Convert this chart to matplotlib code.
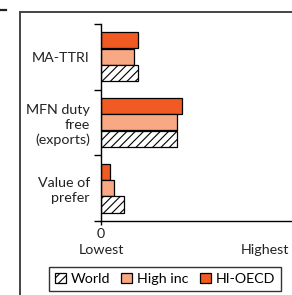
import numpy as np
import matplotlib.pyplot as plt
from matplotlib.patches import Patch
from matplotlib.lines import Line2D

plt.rcParams['font.family'] = ['Lato', 'DejaVu Sans']
plt.rcParams['hatch.linewidth'] = 0.8

categories = ["MA-TTRI", "MFN duty\nfree\n(exports)", "Value of\nprefer"]
series = ["HI-OECD", "High inc", "World"]
hi_oecd = [0.225, 0.49, 0.055]
high_inc = [0.20, 0.46, 0.08]
world = [0.225, 0.46, 0.14]

colors = {"HI-OECD": "#F15A22", "High inc": "#F8A882", "World": "white"}
hatches = {"HI-OECD": None, "High inc": None, "World": "////"}

fig = plt.figure(figsize=(2.92, 2.95), dpi=100)
ax = fig.add_axes([0.346, 0.251, 0.675, 0.668])

y = np.arange(len(categories)) + 0.5
offsets = [-0.25, 0.0, 0.25]
for vals, name, off in zip([hi_oecd, high_inc, world], series, offsets):
    ax.barh(y + off, vals, height=0.245, color=colors[name], hatch=hatches[name],
            edgecolor="black", linewidth=0.9)

ax.set_ylim(3, 0)
ax.set_xlim(0, 1.2)

# ticks at the group boundaries, labels at the group centres
ax.set_yticks([0, 1, 2, 3])
ax.set_yticklabels([])
ax.set_yticks(y, minor=True)
ax.set_yticklabels(categories, minor=True, fontsize=10.3, color="#222222",
                   linespacing=1.3)
ax.tick_params(axis="y", which="major", length=5, width=1)
ax.tick_params(axis="y", which="minor", length=0, pad=8)

ax.set_xticks([0])
ax.set_xticklabels(["0"], fontsize=10.3, color="#222222")
ax.tick_params(axis="x", length=3, width=1, pad=2)
ax.text(0, -0.115, "Lowest", transform=ax.get_xaxis_transform(), ha="center", va="top",
        fontsize=10.3, color="#222222")
ax.text(1, -0.115, "Highest", transform=ax.get_xaxis_transform(), ha="center", va="top",
        fontsize=10.3, color="#222222")

for s in ["top", "right"]:
    ax.spines[s].set_visible(False)
for s in ["left", "bottom"]:
    ax.spines[s].set_linewidth(1)

# outer frame
fig.add_artist(Line2D([0.070, 0.070], [0.0, 0.958], color="#444444", lw=1.4))
fig.add_artist(Line2D([0.070, 1.0], [0.958, 0.958], color="#444444", lw=1.4))
fig.add_artist(Line2D([0.0, 0.02], [0.965, 0.965], color="#222222", lw=1.6))

handles = [Patch(facecolor="white", edgecolor="black", hatch="////", linewidth=0.9),
           Patch(facecolor=colors["High inc"], edgecolor="black", linewidth=0.9),
           Patch(facecolor=colors["HI-OECD"], edgecolor="black", linewidth=0.9)]
leg = fig.legend(handles, ["World", "High inc", "HI-OECD"], loc="upper left",
                 bbox_to_anchor=(0.168, 0.095), ncol=3, fontsize=10.3, frameon=True,
                 fancybox=False, edgecolor="black", handlelength=0.75, handleheight=0.75,
                 handletextpad=0.35, columnspacing=0.8, borderpad=0.4, borderaxespad=0)
leg.get_frame().set_linewidth(1)

fig.savefig("out.png", dpi=100)
